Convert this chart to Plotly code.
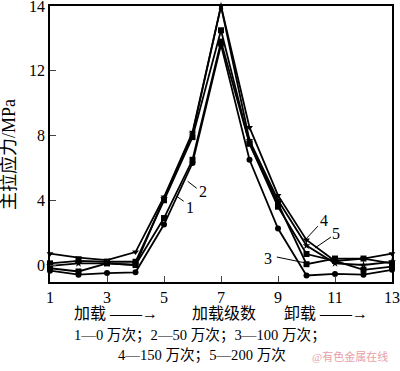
import plotly.graph_objects as go

levels = [1, 2, 3, 4, 5, 6, 7, 8, 9, 10, 11, 12, 13]
s1 = [-0.35, -0.6, -0.5, -0.45, 2.5, 6.3, 13.6, 6.5, 2.25, -0.65, -0.55, -0.6, -0.3]
s2 = [-0.2, -0.4, 0.1, 0.0, 2.9, 6.5, 13.8, 7.5, 3.6, 0.68, 0.25, -0.3, -0.1]
s3 = [0.1, 0.25, 0.2, 0.2, 4.0, 7.9, 14.5, 7.5, 3.8, 0.05, 0.4, 0.4, 0.1]
s4 = [0.7, 0.45, 0.3, 0.8, 4.2, 8.2, 16.0, 8.5, 4.3, 1.55, 0.25, 0.4, 0.7]
s5 = [-0.05, 0.1, 0.1, 0.0, 4.1, 8.1, 16.0, 7.7, 4.0, 1.2, 0.1, 0.0, 0.2]
series = [s1, s2, s3, s4, s5]
series_names = ["1", "2", "3", "4", "5"]
markers = ["circle", "square", "square", "triangle-down", "star"]

ytick_vals = [0, 4, 8, 12, 16]
ytick_text = ["0", "4", "8", "12", "14"]
xtick_vals = [1, 3, 5, 7, 9, 11, 13]

serif = "Liberation Serif, Times New Roman, serif"
cjk = "Liberation Serif, Noto Sans CJK SC, serif"

fig = go.Figure()
for ys, nm, mk in zip(series, series_names, markers):
    fig.add_trace(go.Scatter(
        x=levels, y=ys, name=nm, mode="lines+markers",
        line=dict(color="black", width=1.8),
        marker=dict(symbol=mk, size=6, color="black"),
        cliponaxis=False, showlegend=False,
    ))

# px -> data helpers for label placement
def dx(px):
    return 1 + (px - 50.5) / 28.46

def dy(py):
    return (265 - py) / 16.25

labels = [
    ("1", 190, 207, 184, 201, 177, 196),
    ("2", 203, 191, 197, 188, 188, 181),
    ("3", 268, 258, 277, 257, 306, 263),
    ("4", 324, 220, 318, 226, 306, 239),
    ("5", 336, 233, 331, 237, 315, 248),
]
for t, tx, ty, x0, y0, x1, y1 in labels:
    fig.add_annotation(x=dx(tx), y=dy(ty), text=t, showarrow=False,
                       font=dict(family=serif, size=16, color="black"))
    fig.add_shape(type="line", x0=dx(x0), y0=dy(y0), x1=dx(x1), y1=dy(y1),
                  line=dict(color="black", width=1))

fig.update_xaxes(
    range=[1, 13], tickvals=xtick_vals, ticks="inside", ticklen=6,
    showline=True, linecolor="black", linewidth=1.5, mirror=True,
    showgrid=False, zeroline=False, automargin=False,
    ticklabeloverflow="allow",
    tickfont=dict(family=serif, size=16, color="black"),
)
fig.update_yaxes(
    range=[-1.05, 16.0], tickvals=ytick_vals, ticktext=ytick_text,
    ticks="inside", ticklen=6,
    showline=True, linecolor="black", linewidth=1.5, mirror=True,
    showgrid=False, zeroline=False, automargin=False,
    ticklabeloverflow="allow",
    tickfont=dict(family=serif, size=16, color="black"),
)

L, R, T, B = 50, 392, 6, 282

def px2paper(px, py):
    return (px - L) / (R - L), (B - py) / (B - T)

paper_txt = [
    ("主拉应力/MPa", 9, 155, 18, -90, "black"),
    ("加载 ——→", 116, 313, 16, 0, "black"),
    ("加载级数", 224, 313, 16, 0, "black"),
    ("卸载 ——→", 326, 313, 16, 0, "black"),
    ("1—0 万次；2—50 万次；3—100 万次；", 200, 335, 14.6, 0, "black"),
    ("4—150 万次；5—200 万次", 202, 355, 14.6, 0, "black"),
    ("@有色金属在线", 350, 356, 11, 0, "#e8a0a8"),
]
for t, px, py, sz, ang, col in paper_txt:
    ax, ay = px2paper(px, py)
    fig.add_annotation(x=ax, y=ay, xref="paper", yref="paper",
                       text=t, showarrow=False, textangle=ang,
                       xanchor="center", yanchor="middle",
                       font=dict(family=cjk, size=sz, color=col))

fig.update_layout(
    width=400, height=371,
    margin=dict(l=L, r=400 - R, t=T, b=371 - B, autoexpand=False),
    plot_bgcolor="white", paper_bgcolor="white",
)
fig.write_html("out.html",
               config={"displayModeBar": False},
               post_script="document.body.style.margin='0';document.body.style.overflow='hidden';")
